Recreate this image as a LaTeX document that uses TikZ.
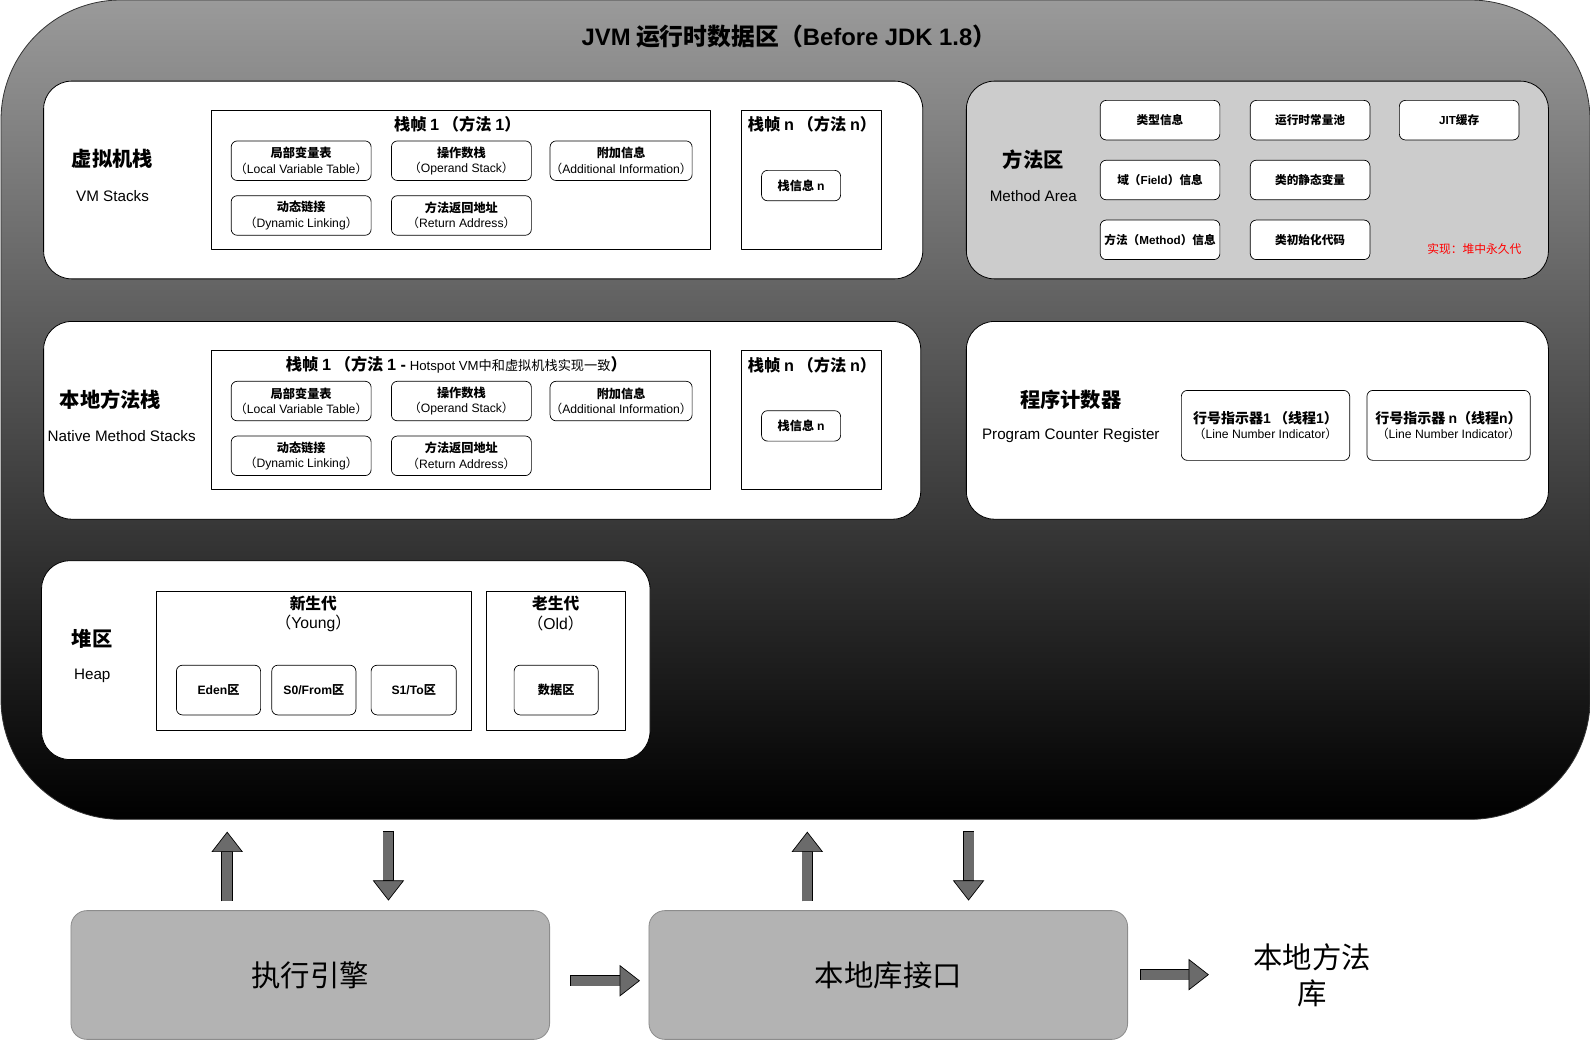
\documentclass[tikz,border=0pt]{standalone}
\usepackage{fontspec}
\setmainfont{Noto Sans CJK SC}
\newfontfamily\en{Liberation Sans}
\usetikzlibrary{arrows.meta,positioning,calc}
\definecolor{areagray}{HTML}{CCCCCC}
\definecolor{boxgray}{HTML}{B3B3B3}
\definecolor{boxline}{HTML}{8C8C8C}
\definecolor{arrowgray}{HTML}{6B6B6B}
\definecolor{topgray}{HTML}{9A9A9A}
\definecolor{midgray}{HTML}{424242}
\newcommand{\fsz}[2]{\fontsize{#1}{#2}\selectfont}

\begin{document}
\begin{tikzpicture}[x=1pt, y=-1pt, scale=1.01403,
        every node/.append style={transform shape},
        line join=round,
        panel/.style={draw=black, fill=white, rounded corners=28pt, line width=0.8pt, inner sep=0pt},
        framebox/.style={draw=black, fill=white, line width=0.8pt, inner sep=0pt},
        itembox/.style={draw=black, fill=white, rounded corners=6pt, line width=0.7pt, inner sep=0pt, align=center, font=\fsz{12}{15}},
        wide/.style={minimum width=138pt, minimum height=39pt},
        areabox/.style={itembox, minimum width=118pt, minimum height=39pt, font=\bfseries\fsz{11.5}{14}},
        heapbox/.style={itembox, minimum width=83pt, minimum height=49pt, font=\bfseries\fsz{12}{15}},
        biglbl/.style={font=\bfseries\fsz{20}{24}},
        sublbl/.style={font=\en\fsz{15}{18}},
        ftitle/.style={font=\bfseries\fsz{16}{19}},
        bottombox/.style={draw=boxline, fill=boxgray, rounded corners=16pt, line width=0.8pt, inner sep=0pt, minimum width=472pt, minimum height=127pt, font=\fsz{29}{35}},
        blockarrow/.style={line width=10.1pt, draw=arrowgray,
            preaction={draw=black, arrows=-, line width=11.5pt, shorten >=18pt, shorten <=-0.7pt},
            -{Triangle[length=20.3pt, width=31.4pt, fill=arrowgray, color=black, line width=0.7pt]}}
    ]
    \useasboundingbox (0,0) rectangle (1568,1026.6);

    % (1) Zone principale avec le dégradé
    \node[draw=black!80, line width=0.8pt, rounded corners=120pt, inner sep=0pt,
        minimum width=1567pt, minimum height=808pt,
        top color=topgray, middle color=midgray, bottom color=black] (jvm) at (784.5,404) {};
    \node[font=\bfseries\fsz{23.5}{28}] (title) at (778,36) {{\en JVM} 运行时数据区（{\en Before JDK 1.8}）};

    % (2) Pile de la VM et pile des méthodes natives
    \node[panel, minimum width=867pt, minimum height=195pt] (vms) at (476.5,177.5) {};
    \node[biglbl] (vmsT) at (111,157) {虚拟机栈};
    \node[sublbl] (vmsS) at (111,193) {VM Stacks};

    \node[panel, minimum width=865pt, minimum height=195pt] (nms) at (475.5,414.5) {};
    \node[biglbl] (nmsT) at (109,394) {本地方法栈};
    \node[sublbl] (nmsS) at (120,430) {Native Method Stacks};

    \foreach \dy/\p in {0/v, 237/n} {
        \node[framebox, minimum width=493pt, minimum height=137pt] (\p f1) at (454.5,{177.5+\dy}) {};
        \node[itembox, wide] (\p lvt) at (297,{158.5+\dy}) {\textbf{局部变量表}\\（{\en Local Variable Table}）};
        \node[itembox, wide] (\p ops) at (455,{158.5+\dy}) {\textbf{操作数栈}\\（{\en Operand Stack}）};
        \node[itembox, wide, minimum width=139pt] (\p add) at (612.5,{158.5+\dy}) {\textbf{附加信息}\\（{\en Additional Information}）};
        \node[itembox, wide] (\p dyn) at (297,{212.5+\dy}) {\textbf{动态链接}\\（{\en Dynamic Linking}）};
        \node[itembox, wide] (\p ret) at (455,{212.5+\dy}) {\textbf{方法返回地址}\\（{\en Return Address}）};
        \node[framebox, minimum width=138pt, minimum height=137pt] (\p fn) at (800,{177.5+\dy}) {};
        \node[itembox, minimum width=78pt, minimum height=30pt, font=\bfseries\fsz{12}{15}] (\p info) at (790,{183+\dy}) {栈信息 {\en n}};
        \node[ftitle, anchor=west] (\p fnT) at (734,{123+\dy}) {栈帧 {\en n} （方法 {\en n}）};
    }
    \node[ftitle] (vf1T) at (451,123) {栈帧 {\en 1} （方法 {\en 1}）};
    \node[ftitle] (nf1T) at (450,360) {栈帧 {\en 1} （方法 {\en 1 -} {\mdseries\fsz{13}{19}{\en Hotspot VM}中和虚拟机栈实现一致}）};

    % (3) Zone des méthodes
    \node[panel, fill=areagray, minimum width=574pt, minimum height=195pt] (area) at (1240,177.5) {};
    \node[biglbl] (areaT) at (1019,157) {方法区};
    \node[sublbl] (areaS) at (1019,193) {Method Area};
    \node[areabox] (cls) at (1144,118.5) {类型信息};
    \node[areabox] (pool) at (1292,118.5) {运行时常量池};
    \node[areabox] (jit) at (1439,118.5) {{\en JIT}缓存};
    \node[areabox] (fld) at (1144,177.5) {域（{\en Field}）信息};
    \node[areabox] (stat) at (1292,177.5) {类的静态变量};
    \node[areabox] (mth) at (1144,236.5) {方法（{\en Method}）信息};
    \node[areabox] (init) at (1292,236.5) {类初始化代码};
    \node[font=\fsz{11.6}{14}, text=red] (impl) at (1454,246) {实现：堆中永久代};

    % (4) Compteur de programme
    \node[panel, minimum width=574pt, minimum height=195pt] (pc) at (1240,414.5) {};
    \node[biglbl] (pcT) at (1056,394) {程序计数器};
    \node[sublbl] (pcS) at (1056,430) {Program Counter Register};
    \node[itembox, minimum width=166pt, minimum height=69pt] (ln1) at (1248,419.5) {{\bfseries\fsz{13.8}{16}行号指示器{\en 1} （线程{\en 1}）}\\（{\en Line Number Indicator}）};
    \node[itembox, minimum width=161pt, minimum height=69pt] (lnn) at (1428.5,419.5) {{\bfseries\fsz{13.8}{16}行号指示器 {\en n}（线程{\en n}）}\\（{\en Line Number Indicator}）};

    % (5) Tas
    \node[panel, minimum width=600pt, minimum height=196pt] (heap) at (341,651) {};
    \node[biglbl] (heapT) at (91,630) {堆区};
    \node[sublbl] (heapS) at (91,666) {Heap};
    \node[framebox, minimum width=311pt, minimum height=137pt] (young) at (309.5,651.5) {};
    \node[align=center, font=\fsz{15.5}{19}] (youngT) at (309,605) {\textbf{新生代}\\（{\en Young}）};
    \node[heapbox] (eden) at (215.5,680.5) {{\en Eden}区};
    \node[heapbox] (s0) at (309.5,680.5) {{\en S0/From}区};
    \node[heapbox, minimum width=84pt] (s1) at (408,680.5) {{\en S1/To}区};
    \node[framebox, minimum width=137pt, minimum height=137pt] (old) at (548.5,651.5) {};
    \node[align=center, font=\fsz{15.5}{19}] (oldT) at (548,605) {\textbf{老生代}\\（{\en Old}）};
    \node[heapbox] (data) at (548.5,680.5) {数据区};

    % (6) Moteur d'exécution et interface native
    \node[bottombox] (engine) at (306,961.5) {执行引擎};
    \node[bottombox] (jni) at (876,961.5) {本地库接口};
    \node[align=center, font=\fsz{29}{35}] (natlib) at (1294,962) {本地方法\\库};

    \coordinate (eUp0) at (224,888);  \coordinate (eUp1) at (224,820);
    \coordinate (eDn0) at (383,820);  \coordinate (eDn1) at (383,888);
    \coordinate (jUp0) at (796,888);  \coordinate (jUp1) at (796,820);
    \coordinate (jDn0) at (955,820);  \coordinate (jDn1) at (955,888);
    \coordinate (h0) at (563,967);    \coordinate (h1) at (631,967);
    \coordinate (l0) at (1125,961);   \coordinate (l1) at (1192,961);

    \draw[blockarrow] (eUp0) -- (eUp1);
    \draw[blockarrow] (eDn0) -- (eDn1);
    \draw[blockarrow] (jUp0) -- (jUp1);
    \draw[blockarrow] (jDn0) -- (jDn1);
    \draw[blockarrow] (h0) -- (h1);
    \draw[blockarrow] (l0) -- (l1);

\end{tikzpicture}
\end{document}
